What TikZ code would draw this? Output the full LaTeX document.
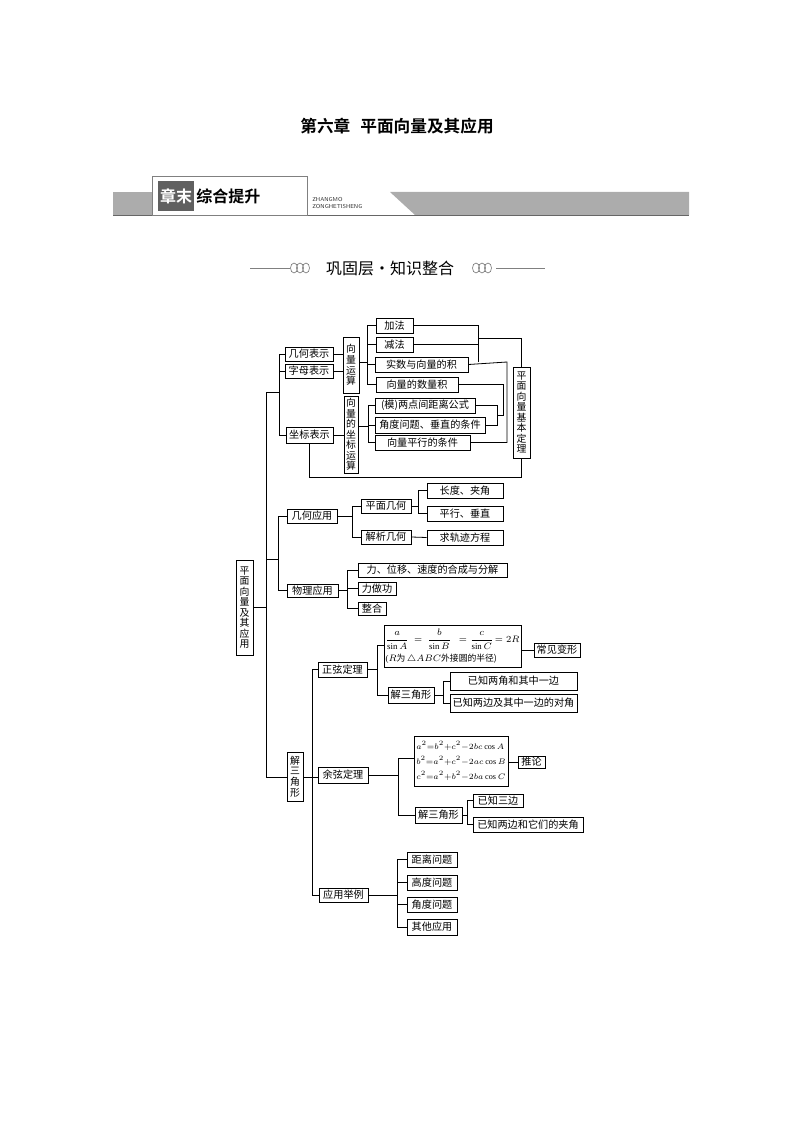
\documentclass[tikz,border=0pt]{standalone}
\usepackage{fontspec}
\newfontfamily\cjk{Noto Sans CJK SC}
\newfontfamily\cjkb{Noto Sans CJK SC Bold}
\setmainfont{Liberation Serif}
\begin{document}
\begin{tikzpicture}[x=0.75pt,y=-0.75pt,
  bx/.style={draw,line width=0.6pt,inner sep=0pt,font=\cjk\fontsize{7.6}{9}\selectfont},
  vt/.style={font=\cjk\fontsize{7.4}{7.9}\selectfont},
  ln/.style={line width=0.6pt}]
\useasboundingbox (0,0) rectangle (794,1123);
\newcommand\bx[7][]{\node[bx,#1,minimum width={(#5-#3)*0.75pt},minimum height={(#6-#4)*0.75pt},align=center] (#2) at ({(#3+#5)/2},{(#4+#6)/2}) {#7};}
% title
\node[font=\cjkb\fontsize{12.5}{14}\selectfont] (title) at (397,126) {第六章\hspace{0.6em}平面向量及其应用};
% banner
\fill[gray!65] (113,192) rectangle (152,215);
\fill[gray!65] (390,192) -- (689,192) -- (689,215) -- (415,215) -- cycle;
\draw[line width=1pt,gray!80!black] (113,215.5) -- (689,215.5);
\node[draw=gray,fill=white,minimum width=116.25pt,minimum height=29pt,inner sep=0pt] (bannerbox) at (229.5,196) {};
\node[fill=gray!75!black,text=white,font=\cjkb\fontsize{12}{13}\selectfont,minimum width=27pt,minimum height=23pt,inner sep=0pt] (zm) at (176,196) {章末};
\node[font=\cjkb\fontsize{12}{13}\selectfont,anchor=west,inner sep=0pt] (zhts) at (196,196) {综合提升};
\node[font=\sffamily\fontsize{4.3}{5}\selectfont,anchor=west,align=left,inner sep=0pt,gray!40!black] (pinyin) at (312,203) {ZHANGMO\\ZONGHETISHENG};
% subtitle
\node[font=\cjk\fontsize{12}{14}\selectfont] (sub) at (390,268) {巩固层·知识整合};
\draw[gray,line width=0.5pt] (250,268) -- (290,268);
\draw[gray,line width=0.5pt] (496,268) -- (545,268);
\foreach \cx in {294,300,306,476,482,488}{\draw[gray,line width=0.5pt] (\cx,268) ellipse (3.5 and 5);}
% ---------- boxes
\bx[vt]{root}{236}{560}{253}{655}{平\\面\\向\\量\\及\\其\\应\\用}
\bx{jh}{285}{347}{333}{361}{几何表示}
\bx{zmb}{285}{364}{333}{378}{字母表示}
\bx{zb}{286}{427}{333}{443}{坐标表示}
\bx[vt]{ys}{343}{337}{359}{393}{向\\量\\运\\算}
\bx[vt]{zbys}{344}{396}{358}{473}{向\\量\\的\\坐\\标\\运\\算}
\bx{jia}{376}{318}{413}{333}{加法}
\bx{jian}{376}{337}{413}{352}{减法}
\bx{ss}{375}{357}{468}{372}{实数与向量的积}
\bx{sl}{376}{377}{458}{392}{向量的数量积}
\bx{mo}{375}{398}{475}{413}{(模)两点间距离公式}
\bx{jd}{375}{417}{485}{433}{角度问题、垂直的条件}
\bx{px}{375}{435}{470}{450}{向量平行的条件}
\bx[vt]{dl}{513}{367}{530}{458}{平\\面\\向\\量\\基\\本\\定\\理}
\bx{jhyy}{287}{509}{337}{523}{几何应用}
\bx{wlyy}{287}{584}{338}{597}{物理应用}
\bx{pmjh}{361}{499}{411}{513}{平面几何}
\bx{jxjh}{361}{530}{411}{544}{解析几何}
\bx{cd}{427}{483}{503}{498}{长度、夹角}
\bx{pc}{427}{506}{503}{521}{平行、垂直}
\bx{gj}{427}{530}{503}{545}{求轨迹方程}
\bx{li}{358}{563}{507}{577}{力、位移、速度的合成与分解}
\bx{zg}{358}{582}{396}{595}{力做功}
\bx{zh}{358}{602}{386}{615}{整合}
\bx[vt]{jsj}{287}{752}{303}{801}{解\\三\\角\\形}
\bx{zx}{318}{662}{367}{677}{正弦定理}
\bx{yx}{318}{767}{368}{783}{余弦定理}
\bx{yyjl}{319}{888}{368}{902}{应用举例}
\node[bx,minimum width={137*0.75pt},minimum height={42*0.75pt},align=left,font=\fontsize{6.6}{8}\selectfont] (sf) at (452.5,646) {$\displaystyle\frac{a}{\sin A}\ =\ \frac{b}{\sin B}\ \ =\frac{c}{\sin C}\!=2R$\\[2.5pt]($R$\cjk 为\,\normalfont$\triangle ABC$\cjk 外接圆的半径)};
\bx{cj}{534}{643}{580}{657}{常见变形}
\bx{zj1}{388}{687}{434}{703}{解三角形}
\bx{lj}{450}{672}{577}{690}{已知两角和其中一边}
\bx{lb}{450}{694}{577}{712}{已知两边及其中一边的对角}
\node[bx,minimum width={94*0.75pt},minimum height={50*0.75pt},align=left,font=\fontsize{6.1}{11.2}\selectfont] (cf) at (461,761) {$a^2{=}b^2{+}c^2{-}2bc\cos A$\\$b^2{=}a^2{+}c^2{-}2ac\cos B$\\$c^2{=}a^2{+}b^2{-}2ba\cos C$};
\bx{tl}{518}{756}{545}{768}{推论}
\bx{zj2}{415}{807}{462}{823}{解三角形}
\bx{sb}{473}{794}{523}{807}{已知三边}
\bx{lbj}{473}{817}{583}{832}{已知两边和它们的夹角}
\bx{jl}{407}{852}{457}{867}{距离问题}
\bx{gd}{407}{875}{457}{890}{高度问题}
\bx{jdw}{407}{897}{457}{912}{角度问题}
\bx{qt}{407}{919}{457}{935}{其他应用}
% ---------- connectors
\draw[ln] (root.east) -- (root.east -| 266,0);
\draw[ln] (266,392) -- (266,777);
\draw[ln] (266,392) -- (279,392);
\draw[ln] (jh.west -| 279,0) -- (zb.west -| 279,0);
\draw[ln] (jh.west -| 279,0) -- (jh.west);
\draw[ln] (zmb.west -| 279,0) -- (zmb.west);
\draw[ln] (zb.west -| 279,0) -- (zb.west);
\draw[ln] (jh.east) -- (jh.east -| ys.west);
\draw[ln] (zmb.east) -- (zmb.east -| ys.west);
\draw[ln] (zb.east) -- (zb.east -| zbys.west);
\draw[ln] (ys.east |- 0,362) -- (367,362);
\draw[ln] (jia.west -| 367,0) -- (sl.west -| 367,0);
\foreach \n in {jia,jian,ss,sl}{\draw[ln] (\n.west -| 367,0) -- (\n.west);}
\draw[ln] (zbys.east |- 0,426) -- (368,426);
\draw[ln] (mo.west -| 368,0) -- (px.west -| 368,0);
\foreach \n in {mo,jd,px}{\draw[ln] (\n.west -| 368,0) -- (\n.west);}
\draw[ln] (jia.east) -- (jia.east -| 478,0) -- (478,362);
\draw[ln] (jian.east) -- (jian.east -| 478,0);
\draw[ln] (478,338) -| (dl.north);
\draw[ln] (ss.east) -- (507,362) -- (px.east -| 507,0) -- (px.east);
\draw[ln] (sl.east) -- (sl.east -| 503,0) -- (503,415) -- (497,415);
\draw[ln] (mo.east) -- (mo.east -| 497,0) -- (jd.east -| 497,0) -- (jd.east);
\draw[ln] (zb.south) -- (zb.south |- 0,477) -- (dl.south |- 0,477) -- (dl.south);
% applications
\draw[ln] (266,559) -- (278,559);
\draw[ln] (jhyy.west -| 278,0) -- (wlyy.west -| 278,0);
\draw[ln] (jhyy.west -| 278,0) -- (jhyy.west);
\draw[ln] (wlyy.west -| 278,0) -- (wlyy.west);
\draw[ln] (jhyy.east) -- (jhyy.east -| 352,0);
\draw[ln] (pmjh.west -| 352,0) -- (jxjh.west -| 352,0);
\draw[ln] (pmjh.west -| 352,0) -- (pmjh.west);
\draw[ln] (jxjh.west -| 352,0) -- (jxjh.west);
\draw[ln] (pmjh.east) -- (pmjh.east -| 418,0);
\draw[ln] (cd.west -| 418,0) -- (pc.west -| 418,0);
\draw[ln] (cd.west -| 418,0) -- (cd.west);
\draw[ln] (pc.west -| 418,0) -- (pc.west);
\draw[ln] (jxjh.east) -- (gj.west);
\draw[ln] (wlyy.east) -- (wlyy.east -| 347,0);
\draw[ln] (li.west -| 347,0) -- (zh.west -| 347,0);
\foreach \n in {li,zg,zh}{\draw[ln] (\n.west -| 347,0) -- (\n.west);}
% triangles
\draw[ln] (266,777) -- (jsj.west |- 0,777);
\draw[ln] (jsj.east |- 0,777) -- (yx.west |- 0,777);
\draw[ln] (zx.west -| 312,0) -- (yyjl.west -| 312,0);
\draw[ln] (zx.west -| 312,0) -- (zx.west);
\draw[ln] (yyjl.west -| 312,0) -- (yyjl.west);
\draw[ln] (zx.east) -- (zx.east -| 377,0);
\draw[ln] (377,645) -- (zj1.west -| 377,0);
\draw[ln] (377,645) -- (sf.west |- 0,645);
\draw[ln] (zj1.west -| 377,0) -- (zj1.west);
\draw[ln] (sf.east |- cj.west) -- (cj.west);
\draw[ln] (zj1.east) -- (zj1.east -| 443,0);
\draw[ln] (lj.west -| 443,0) -- (lb.west -| 443,0);
\draw[ln] (lj.west -| 443,0) -- (lj.west);
\draw[ln] (lb.west -| 443,0) -- (lb.west);
\draw[ln] (yx.east) -- (yx.east -| 398,0);
\draw[ln] (398,758) -- (zj2.west -| 398,0);
\draw[ln] (398,758) -- (cf.west |- 0,758);
\draw[ln] (zj2.west -| 398,0) -- (zj2.west);
\draw[ln] (cf.east |- tl.west) -- (tl.west);
\draw[ln] (zj2.east) -- (zj2.east -| 467,0);
\draw[ln] (sb.west -| 467,0) -- (lbj.west -| 467,0);
\draw[ln] (sb.west -| 467,0) -- (sb.west);
\draw[ln] (lbj.west -| 467,0) -- (lbj.west);
\draw[ln] (yyjl.east) -- (yyjl.east -| 397,0);
\draw[ln] (jl.west -| 397,0) -- (qt.west -| 397,0);
\foreach \n in {jl,gd,jdw,qt}{\draw[ln] (\n.west -| 397,0) -- (\n.west);}
\end{tikzpicture}
\end{document}
